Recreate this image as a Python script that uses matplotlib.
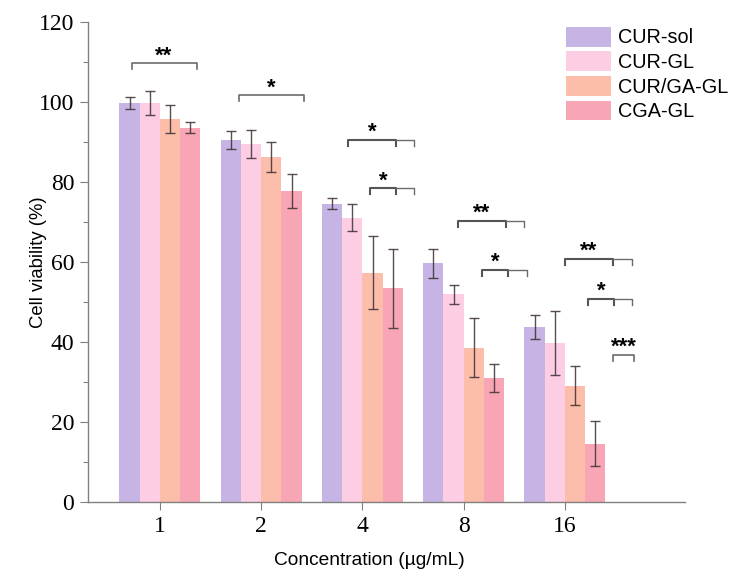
from matplotlib import pyplot as plt
from matplotlib.ticker import MultipleLocator
import numpy as np

concentrations = ['1', '2', '4', '8', '16']
groups = ['CUR-sol', 'CUR-GL', 'CUR/GA-GL', 'CGA-GL']

cur_sol = [99.7, 90.5, 74.6, 59.7, 43.8]
cur_sol_err = [1.5, 2.3, 1.4, 3.6, 3.0]
cur_gl = [99.8, 89.4, 71.1, 51.9, 39.8]
cur_gl_err = [3.0, 3.5, 3.4, 2.4, 8.0]
cur_ga_gl = [95.8, 86.3, 57.3, 38.6, 29.1]
cur_ga_gl_err = [3.5, 3.8, 9.1, 7.3, 4.8]
cga_gl = [93.6, 77.8, 53.4, 31.0, 14.6]
cga_gl_err = [1.3, 4.2, 9.9, 3.5, 5.7]

means = [cur_sol, cur_gl, cur_ga_gl, cga_gl]
errors = [cur_sol_err, cur_gl_err, cur_ga_gl_err, cga_gl_err]
colors = ['#c6b5e4', '#fccde3', '#fcbdaa', '#f8a6b6']

# significance brackets: (group, left, mid, right, height, label); x relative to group centre
sig_brackets = [
    (0, -0.28, None, 0.362, 109.7, '**'),
    (1, -0.217, None, 0.425, 101.7, '*'),
    (2, -0.14, 0.328, 0.512, 90.5, '*'),
    (2, 0.077, 0.328, 0.512, 78.4, '*'),
    (3, -0.054, 0.414, 0.598, 70.25, '**'),
    (3, 0.183, 0.434, 0.622, 58.0, '*'),
    (4, 0.003, 0.471, 0.659, 60.75, '**'),
    (4, 0.23, 0.484, 0.665, 50.7, '*'),
    (4, 0.474, None, 0.684, 36.75, '***'),
]

fig = plt.figure(figsize=(7.38, 5.8), dpi=100)
ax = fig.add_axes([0.1192, 0.1345, 0.8088, 0.8275])

x = np.arange(len(concentrations))
width = 0.2
for i, g in enumerate(groups):
    ax.bar(x + (i - 1.5) * width, means[i], width, color=colors[i], label=g, zorder=2)
    ax.errorbar(x + (i - 1.5) * width, means[i], yerr=errors[i], fmt='none',
                ecolor='#3d2f33', alpha=0.85, elinewidth=1, capsize=3.6, capthick=1, zorder=3)

tick_len = 1.4
for gi, left, mid, right, h, label in sig_brackets:
    xl, xr = gi + left, gi + right
    if mid is None:
        ax.plot([xl, xl, xr, xr], [h - tick_len, h, h, h - tick_len], color='#6b6b6b', lw=1.2, zorder=4)
        xs = (xl + xr) / 2
    else:
        xm = gi + mid
        ax.plot([xl, xl, xm, xm], [h - tick_len, h, h, h - tick_len], color='#555555', lw=1.5, zorder=4)
        ax.plot([xm, xr, xr], [h, h, h - tick_len], color='#6b6b6b', lw=1.0, zorder=4)
        xs = (xl + xm) / 2
    ax.text(xs, h + 0.5, label, ha='center', va='baseline', fontsize=16,
            fontweight='bold', family='Liberation Sans')

ax.set_xlim(-0.711, 5.185)
ax.set_ylim(0, 120)
ax.set_xticks(x)
ax.set_xticklabels(concentrations)
ax.yaxis.set_major_locator(MultipleLocator(20))
ax.yaxis.set_minor_locator(MultipleLocator(10))

for side in ['top', 'right']:
    ax.spines[side].set_visible(False)
for side in ['left', 'bottom']:
    ax.spines[side].set_color('#808080')
    ax.spines[side].set_linewidth(1.0)

ax.tick_params(axis='both', which='major', direction='out', length=5.8, width=0.8,
               color='#808080', labelsize=17, pad=4)
ax.tick_params(axis='y', which='minor', direction='out', length=3.5, width=0.8, color='#808080')
for lb in ax.get_xticklabels() + ax.get_yticklabels():
    lb.set_family('Liberation Serif')

ax.set_xlabel('Concentration (µg/mL)', fontsize=13.8, family='Liberation Sans')
ax.set_ylabel('Cell viability (%)', fontsize=13.3, family='Liberation Sans')
ax.xaxis.set_label_coords(0.472, -0.104)
ax.yaxis.set_label_coords(-0.068, 0.5)

leg = ax.legend(loc='upper left', bbox_to_anchor=(0.8007, 0.99), frameon=False,
                prop={'family': 'Liberation Sans', 'size': 14.3}, borderpad=0, borderaxespad=0,
                handlelength=2.26, handleheight=1.15, handletextpad=0.35, labelspacing=0.2)

fig.savefig('out.png', dpi=100)
